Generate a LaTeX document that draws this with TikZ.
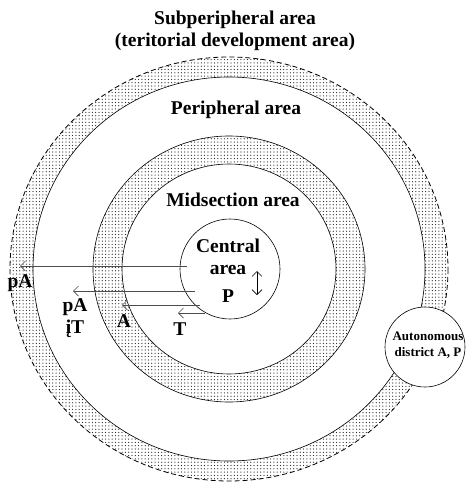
\documentclass[tikz,border=0pt]{standalone}
\usepackage{fontspec}
\setmainfont{Liberation Serif}
\usetikzlibrary{arrows.meta, patterns, positioning}
\pgfdeclarepatternformonly{zonedots}{\pgfqpoint{-1pt}{-1pt}}{\pgfqpoint{2.3pt}{2.3pt}}{\pgfqpoint{3.3pt}{3.3pt}}{%
  \pgfpathcircle{\pgfqpoint{0pt}{0pt}}{0.62pt}\pgfusepath{fill}}
\tikzset{
  zone/.style={pattern=zonedots, pattern color=black!85, even odd rule},
  edge/.style={draw=black, line width=0.6pt},
  lab/.style={font=\fontsize{19.5}{22}\selectfont\bfseries, align=center, inner sep=0pt},
  small/.style={font=\fontsize{13}{16}\selectfont\bfseries, align=center, inner sep=0pt},
  flow/.style={-{Straight Barb[length=5pt, width=10pt]}, line width=0.7pt, draw=black!70},
  biflow/.style={{Straight Barb[length=5pt, width=10pt]}-{Straight Barb[length=5pt, width=10pt]}, line width=0.6pt, draw=black},
}

\begin{document}
\begin{tikzpicture}[x=1pt, y=-1pt]
  \useasboundingbox (0,0) rectangle (468,482);
  \coordinate (o) at (229,269);
  % subperipheral ring
  \fill[zone] (o) ellipse [x radius=219, y radius=212] (o) ellipse [x radius=196, y radius=192];
  \draw[edge, line width=0.8pt, dash pattern=on 5pt off 3pt] (o) ellipse [x radius=219, y radius=212];
  \draw[edge] (o) ellipse [x radius=196, y radius=192];
  % midsection ring
  \fill[zone] (o) ellipse [x radius=136, y radius=133] (o) ellipse [x radius=107, y radius=105];
  \draw[edge] (o) ellipse [x radius=136, y radius=133];
  \draw[edge] (o) ellipse [x radius=107, y radius=105];
  % centre and autonomous district
  \node (central) [circle, edge, minimum size=100pt] at (230,269) {};
  \node (auto) [circle, edge, fill=white, minimum size=80pt] at (425,347) {};
  \node (autotxt) [small] at (428,345) {Autonomous\\district A, P};
  % titles
  \node (sub)  [lab] at (235,31) {Subperipheral area\\(teritorial development area)};
  \node (peri) [lab] at (236,110) {Peripheral area};
  \node (mid)  [lab] at (233,200) {Midsection area};
  \node (cen)  [lab] at (228,257) {Central\\area};
  \node (p)    [lab] at (228,296) {P};
  % outflows
  \coordinate (s1) at (187,266); \coordinate (e1) at (20,266);
  \coordinate (s2) at (195,291); \coordinate (e2) at (73,291);
  \coordinate (s3) at (200,305); \coordinate (e3) at (122,305);
  \coordinate (s4) at (205,313); \coordinate (e4) at (178,313);
  \draw[flow] (s1) -- (e1);
  \draw[flow] (s2) -- (e2);
  \draw[flow] (s3) -- (e3);
  \draw[flow] (s4) -- (e4);
  \node (l1) [lab] at (20,283) {pA};
  \node (l2) [lab] at (75,318) {pA\\įT};
  \node (l3) [lab] at (124,321) {A};
  \node (l4) [lab] at (180,329) {T};
  \coordinate (u) at (257,271); \coordinate (d) at (257,295);
  \draw[biflow] (u) -- (d);
\end{tikzpicture}
\end{document}
